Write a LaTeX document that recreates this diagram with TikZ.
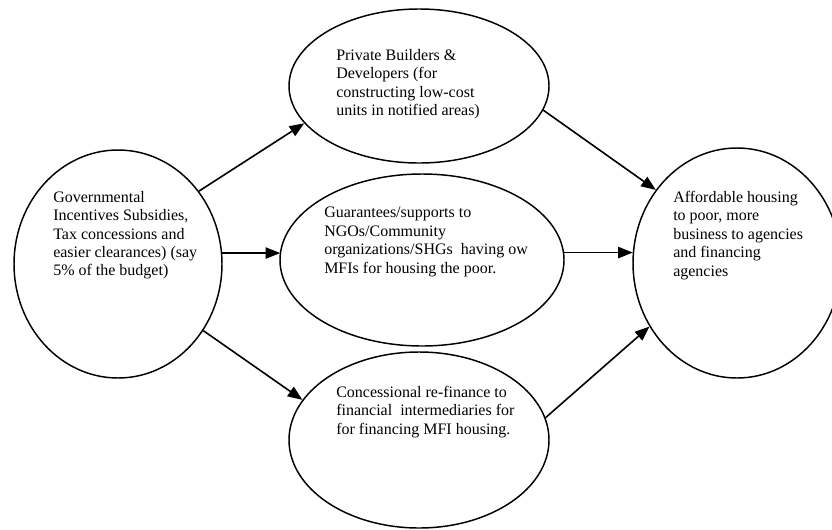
\documentclass[tikz,border=0pt]{standalone}
\usepackage{fontspec}
\setmainfont{Liberation Serif}
\usetikzlibrary{shapes.geometric,arrows.meta}
\def\oval{\node[draw,ellipse,line width=1.1pt,inner sep=0pt]}
\def\txt{\node[anchor=north west,align=left,inner sep=0pt,font=\fontsize{12pt}{13.8pt}\selectfont]}

\begin{document}
\begin{tikzpicture}[x=0.75pt,y=-0.75pt,
  arr/.style={line width=1.2pt,-{Triangle[length=11pt,width=8.5pt]}}]
  \useasboundingbox (0,0) rectangle (832,529);
  \clip (0,0) rectangle (832,529);
  % ovals
  \oval[minimum width=156pt,minimum height=171pt] (gov) at (118,264) {};
  \oval[minimum width=195pt,minimum height=115.5pt] (builders) at (419,86) {};
  \oval[minimum width=213pt,minimum height=129pt] (ngos) at (422,260) {};
  \oval[minimum width=195pt,minimum height=132pt] (refin) at (419,440) {};
  \oval[minimum width=156pt,minimum height=172.5pt] (housing) at (737,263) {};
  % texts
  \txt (govtext) at (53,191) {Governmental\\Incentives Subsidies,\\Tax concessions and\\easier clearances) (say\\5\% of the budget)};
  \txt (buildtext) at (336,49) {Private Builders \&\\Developers (for\\constructing low-cost\\units in notified areas)};
  \txt (ngotext) at (324,207) {Guarantees/supports to\\NGOs/Community\\organizations/SHGs\ \ having ow\\MFIs for housing the poor.};
  \txt (refintext) at (336,386) {Concessional re-finance to\\financial\ \ intermediaries for\\for financing MFI housing.};
  \txt (houstext) at (673,191) {Affordable housing\\to poor, more\\business to agencies\\and financing\\agencies};
  % arrows
  \draw[arr] (gov.42) -- (builders.198);
  \draw[arr] (gov.6.6) -- (gov.6.6 -| ngos.176.8);
  \draw[arr] (gov.-38) -- (refin.161.6);
  \draw[arr] (builders.-11.6) -- (housing.138.9);
  \draw[arr] (ngos.3.2) -- (ngos.3.2 -| housing.174);
  \draw[arr] (refin.10.5) -- (housing.216.8);
\end{tikzpicture}
\end{document}
